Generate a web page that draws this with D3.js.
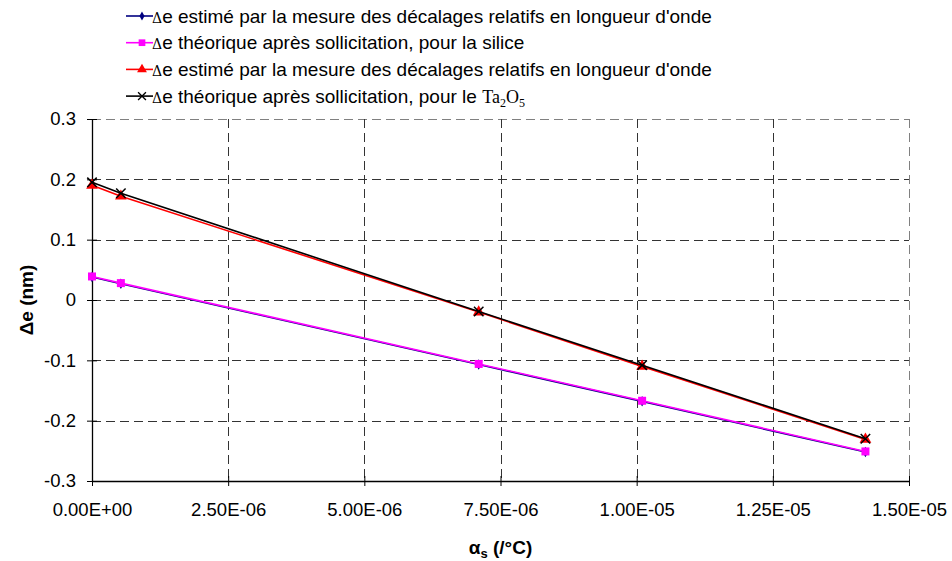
<!DOCTYPE html>
<html>
<head>
<meta charset="utf-8">
<script src="https://cdn.jsdelivr.net/npm/d3@7"></script>
<style>
  body { margin: 0; background: #fff; }
  svg { display: block; font-family: "Liberation Sans", Arial, sans-serif; }
</style>
</head>
<body>
<div id="chart"></div>
<script>
// values
const alphaS = [0, 5.3e-7, 7.1e-6, 1.01e-5, 1.42e-5];
const estimSilice = [0.038, 0.027, -0.107, -0.168, -0.252];
const theoSilice = [0.039, 0.028, -0.106, -0.167, -0.251];
const estimTa2O5 = [0.190, 0.172, -0.020, -0.110, -0.231];
const theoTa2O5 = [0.195, 0.177, -0.019, -0.108, -0.230];
const xTicks = [0, 2.5e-6, 5e-6, 7.5e-6, 1e-5, 1.25e-5, 1.5e-5];
const yTicks = [-0.3, -0.2, -0.1, 0, 0.1, 0.2, 0.3];

const series = [
  { values: estimSilice, color: "#000080", symbol: d3.symbolDiamond, size: 32,
    label: "e estimé par la mesure des décalages relatifs en longueur d'onde" },
  { values: theoSilice, color: "#ff00ff", symbol: d3.symbolSquare, size: 64,
    label: "e théorique après sollicitation, pour la silice" },
  { values: estimTa2O5, color: "#ff0000", symbol: d3.symbolTriangle, size: 60,
    label: "e estimé par la mesure des décalages relatifs en longueur d'onde" },
  { values: theoTa2O5, color: "#000000", symbol: d3.symbolX, size: 60,
    label: "e théorique après sollicitation, pour le ", ta: true }
];

const width = 952, height = 561;
const margin = { top: 119, right: 43, bottom: 80, left: 92 };

const svg = d3.select("#chart").append("svg")
  .attr("width", width)
  .attr("height", height);

const x = d3.scaleLinear().domain([0, 1.5e-5])
  .range([margin.left, width - margin.right]);
const y = d3.scaleLinear().domain([-0.3, 0.3])
  .range([height - margin.bottom, margin.top]);

// gridlines
const grid = svg.append("g").attr("shape-rendering", "crispEdges");
grid.selectAll(".gy").data(yTicks.filter(d => d > -0.3)).join("line")
  .attr("x1", x(0)).attr("x2", x(1.5e-5))
  .attr("y1", d => Math.round(y(d)) + 0.5).attr("y2", d => Math.round(y(d)) + 0.5)
  .attr("stroke", d => d === 0.3 ? "#808080" : "#333")
  .attr("stroke-dasharray", "9,5");
grid.selectAll(".gx").data(xTicks.filter(d => d > 0)).join("line")
  .attr("x1", d => Math.round(x(d)) + 0.5).attr("x2", d => Math.round(x(d)) + 0.5)
  .attr("y1", y(0.3)).attr("y2", y(-0.3))
  .attr("stroke", d => d === 1.5e-5 ? "#808080" : "#333")
  .attr("stroke-dasharray", "9,5");

// axes (cross ticks)
const fmtY = d => d === 0 ? "0" : d3.format(".1f")(d).replace("−", "-");

const gx = svg.append("g")
  .attr("transform", `translate(0,${y(-0.3)})`)
  .call(d3.axisBottom(x).tickValues(xTicks).tickSize(5).tickSizeOuter(0)
    .tickFormat(d => {
      const [m, e] = d3.format(".2e")(d).split("e");
      const ex = +e;
      return m + "E" + (ex < 0 ? "-" : "+") + String(Math.abs(ex)).padStart(2, "0");
    }));
gx.selectAll(".tick line").attr("y1", -5).attr("y2", 5);
gx.selectAll(".tick text").attr("y", 22).attr("dy", "0.71em");
gx.attr("font-size", 18.5).attr("font-family", null);

const gy = svg.append("g")
  .attr("transform", `translate(${x(0)},0)`)
  .call(d3.axisLeft(y).tickValues(yTicks).tickSize(5).tickSizeOuter(0).tickFormat(fmtY));
gy.selectAll(".tick line").attr("x1", -5).attr("x2", 5);
gy.selectAll(".tick text").attr("x", -16);
gy.attr("font-size", 18.5).attr("font-family", null);

svg.selectAll(".domain").attr("stroke", "#000").attr("stroke-width", 1.3);
svg.selectAll(".tick line").attr("stroke", "#000");
svg.selectAll(".tick text").attr("fill", "#000");

// lines and markers
const line = d3.line().x((d, i) => x(alphaS[i])).y(d => y(d));
series.forEach(s => {
  svg.append("path")
    .attr("d", line(s.values))
    .attr("fill", "none")
    .attr("stroke", s.color)
    .attr("stroke-width", 1.6);
  svg.append("g").selectAll("path").data(s.values).join("path")
    .attr("transform", (d, i) => `translate(${x(alphaS[i])},${y(d)})`)
    .attr("d", d3.symbol(s.symbol, s.size))
    .attr("fill", s.symbol === d3.symbolX ? "none" : s.color)
    .attr("stroke", s.symbol === d3.symbolX ? s.color : "none")
    .attr("stroke-width", 1.5);
});

// legend
const legend = svg.append("g").attr("transform", "translate(126,0)");
series.forEach((s, i) => {
  const row = legend.append("g").attr("transform", `translate(0,${16 + i * 26.7})`);
  row.append("line").attr("x1", 0).attr("x2", 27).attr("stroke", s.color).attr("stroke-width", 1.6);
  row.append("path").attr("transform", "translate(16,0)")
    .attr("d", d3.symbol(s.symbol, s.size * 0.7))
    .attr("fill", s.symbol === d3.symbolX ? "none" : s.color)
    .attr("stroke", s.symbol === d3.symbolX ? s.color : "none")
    .attr("stroke-width", 1.3);
  const t = row.append("text").attr("x", 26).attr("dy", "0.35em").attr("font-size", 19);
  t.append("tspan").attr("font-size", 14).attr("font-family", "DejaVu Serif").text("Δ");
  t.append("tspan").text(s.label);
  if (s.ta) {
    const f = "'Liberation Serif', 'Times New Roman', serif";
    t.append("tspan").attr("font-family", f).attr("font-size", 18).text("Ta");
    t.append("tspan").attr("font-family", f).attr("font-size", 12).attr("dy", 4).text("2");
    t.append("tspan").attr("font-family", f).attr("font-size", 18).attr("dy", -4).text("O");
    t.append("tspan").attr("font-family", f).attr("font-size", 12).attr("dy", 4).text("5");
  }
});

// axis titles
svg.append("text")
  .attr("transform", `translate(33,${(y(0.3) + y(-0.3)) / 2}) rotate(-90)`)
  .attr("text-anchor", "middle")
  .attr("font-size", 19).attr("font-weight", "bold")
  .text("Δe (nm)");

const xt = svg.append("text")
  .attr("x", (x(0) + x(1.5e-5)) / 2)
  .attr("y", 554)
  .attr("text-anchor", "middle")
  .attr("font-size", 19).attr("font-weight", "bold");
xt.append("tspan").text("α");
xt.append("tspan").attr("font-size", 13).attr("dy", 4).text("s");
xt.append("tspan").attr("dy", -4).text(" (/°C)");
</script>
</body>
</html>
